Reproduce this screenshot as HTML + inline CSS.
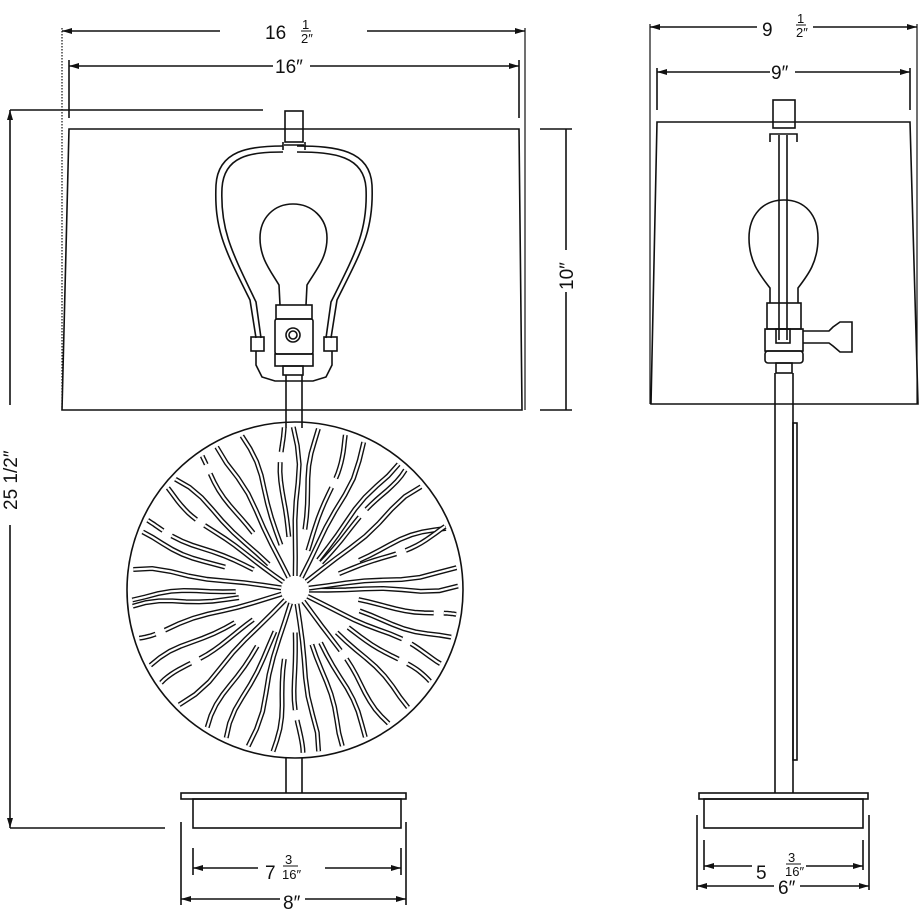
<!DOCTYPE html>
<html><head><meta charset="utf-8"><style>
html,body{margin:0;padding:0;background:#fff}
svg{display:block}
text{font-family:"Liberation Sans",sans-serif;fill:#111}
</style></head><body>
<svg id="s" width="920" height="920" viewBox="0 0 920 920" xmlns="http://www.w3.org/2000/svg">
<defs>
<marker id="a" markerWidth="10" markerHeight="6" refX="10" refY="3" orient="auto" markerUnits="userSpaceOnUse"><path d="M0,0 L10,3 L0,6 z" fill="#111"/></marker>
<marker id="b" markerWidth="10" markerHeight="6" refX="0" refY="3" orient="auto" markerUnits="userSpaceOnUse"><path d="M10,0 L0,3 L10,6 z" fill="#111"/></marker>
</defs>
<g stroke="#111" stroke-width="1.6" fill="none">
<line x1="62" y1="31" x2="220" y2="31" marker-start="url(#b)"/>
<line x1="367" y1="31" x2="525" y2="31" marker-end="url(#a)"/>
<line x1="62" y1="28" x2="62" y2="410" stroke-dasharray="1.5,1.5" stroke-width="1.2"/>
<line x1="525" y1="28" x2="525" y2="410" stroke-width="1.2"/>
<line x1="69" y1="66" x2="273" y2="66" marker-start="url(#b)"/>
<line x1="310" y1="66" x2="519" y2="66" marker-end="url(#a)"/>
<line x1="69" y1="60" x2="69" y2="118"/>
<line x1="519" y1="60" x2="519" y2="118"/>
<line x1="10" y1="110" x2="263" y2="110"/>
<line x1="10" y1="110" x2="10" y2="405" marker-start="url(#b)"/>
<line x1="10" y1="525" x2="10" y2="828" marker-end="url(#a)"/>
<line x1="10" y1="828" x2="165" y2="828"/>
<line x1="540" y1="129" x2="572" y2="129"/>
<line x1="540" y1="410" x2="572" y2="410"/>
<line x1="566" y1="129" x2="566" y2="250"/>
<line x1="566" y1="292" x2="566" y2="410"/>
<path d="M69,129 L519,129 L522,410 L62,410 Z"/>
<rect x="285" y="111" width="18" height="31"/>
<path d="M283,142 L283,150 M305,142 L305,150 M284,145 h20"/>
<path d="M283,146 C250,146 218,150 216,185 C214,230 225,250 250,300 L256,338 M297,146 C336,146 370,150 372,185 C374,230 362,250 337,300 L331,338"/>
<path d="M283,152 C250,152 224,156 222,188 C220,230 232,252 256,302 L261,338 M297,152 C334,152 364,156 366,188 C368,230 356,252 331,302 L326,338"/>
<rect x="251" y="337" width="13" height="14"/>
<rect x="324" y="337" width="13" height="14"/>
<path d="M256,351 L256,365 L262,377 L275,381 L313,381 L326,377 L332,365 L332,351"/>
<path d="M280,305 L279,285 C270,270 260,258 260,238 C260,218 274,204 293,204 C312,204 327,218 327,238 C327,258 316,270 307,285 L306,305"/>
<rect x="276" y="305" width="36" height="14"/>
<rect x="275" y="319" width="38" height="35" rx="2"/>
<circle cx="293" cy="335" r="7"/><circle cx="293" cy="335" r="4"/>
<rect x="275" y="354" width="38" height="12"/>
<rect x="283" y="366" width="20" height="9"/>
<line x1="286" y1="375" x2="286" y2="428"/>
<line x1="302" y1="375" x2="302" y2="428"/>
<line x1="286" y1="758" x2="286" y2="793"/>
<line x1="302" y1="758" x2="302" y2="793"/>
<circle cx="295" cy="590" r="168"/>
<g id="rays"></g>
<rect x="181" y="793" width="225" height="6"/>
<rect x="193" y="799" width="208" height="29"/>
<line x1="193" y1="848" x2="193" y2="875"/>
<line x1="401" y1="848" x2="401" y2="875"/>
<line x1="193" y1="868" x2="258" y2="868" marker-start="url(#b)"/>
<line x1="325" y1="868" x2="401" y2="868" marker-end="url(#a)"/>
<line x1="181" y1="822" x2="181" y2="905"/>
<line x1="406" y1="822" x2="406" y2="905"/>
<line x1="181" y1="899" x2="280" y2="899" marker-start="url(#b)"/>
<line x1="305" y1="899" x2="406" y2="899" marker-end="url(#a)"/>
<line x1="650" y1="27" x2="757" y2="27" marker-start="url(#b)"/>
<line x1="813" y1="27" x2="917" y2="27" marker-end="url(#a)"/>
<line x1="650" y1="24" x2="650" y2="404" stroke-width="1.2"/>
<line x1="917" y1="24" x2="917" y2="404" stroke-width="1.2"/>
<line x1="657" y1="72" x2="770" y2="72" marker-start="url(#b)"/>
<line x1="795" y1="72" x2="910" y2="72" marker-end="url(#a)"/>
<line x1="657" y1="68" x2="657" y2="110"/>
<line x1="910" y1="68" x2="910" y2="110"/>
<path d="M657,122 L910,122 L918,404 L651,404 Z"/>
<rect x="773" y="100" width="22" height="28"/>
<path d="M770,142 L770,134 L797,134 L797,142"/>
<line x1="779" y1="135" x2="779" y2="340"/>
<line x1="787" y1="135" x2="787" y2="340"/>
<path d="M770,303 L770,288 C760,275 749,262 749,238 C749,215 763,200 784,200 C805,200 818,215 818,238 C818,262 808,275 798,288 L798,303"/>
<rect x="767" y="303" width="34" height="26"/>
<rect x="765" y="329" width="38" height="22"/>
<rect x="776" y="329" width="14" height="14"/>
<rect x="765" y="351" width="38" height="12" rx="3"/>
<rect x="776" y="363" width="16" height="10"/>
<path d="M803,331 L829,331 L833,327 L840,322 L852,322 L852,352 L840,352 L833,346 L829,343 L803,343"/>
<line x1="775" y1="373" x2="775" y2="793"/>
<line x1="793" y1="373" x2="793" y2="793"/>
<rect x="793" y="423" width="4" height="337"/>
<rect x="699" y="793" width="169" height="6"/>
<rect x="704" y="799" width="159" height="29"/>
<line x1="697" y1="815" x2="697" y2="890"/>
<line x1="869" y1="815" x2="869" y2="890"/>
<line x1="704" y1="840" x2="704" y2="870"/>
<line x1="863" y1="840" x2="863" y2="870"/>
<line x1="704" y1="866" x2="752" y2="866" marker-start="url(#b)"/>
<line x1="806" y1="866" x2="863" y2="866" marker-end="url(#a)"/>
<line x1="697" y1="886" x2="774" y2="886" marker-start="url(#b)"/>
<line x1="800" y1="886" x2="869" y2="886" marker-end="url(#a)"/>
</g>
<g font-size="19">
<text x="265" y="39">16</text><text x="302" y="29" font-size="13">1</text><line x1="301" y1="31" x2="311" y2="31" stroke="#111"/><text x="301" y="43" font-size="13">2″</text>
<text x="275" y="73">16″</text>
<text transform="translate(17,510) rotate(-90)">25 1/2″</text>
<text transform="translate(573,290) rotate(-90)">10″</text>
<text x="265" y="879">7</text><text x="285" y="864" font-size="13">3</text><line x1="283" y1="866" x2="298" y2="866" stroke="#111"/><text x="282" y="879" font-size="13">16″</text>
<text x="283" y="909">8″</text>
<text x="762" y="36">9</text><text x="797" y="23" font-size="13">1</text><line x1="796" y1="25" x2="806" y2="25" stroke="#111"/><text x="796" y="37" font-size="13">2″</text>
<text x="771" y="79">9″</text>
<text x="756" y="879">5</text><text x="788" y="862" font-size="13">3</text><line x1="786" y1="864" x2="801" y2="864" stroke="#111"/><text x="785" y="876" font-size="13">16″</text>
<text x="778" y="894">6″</text>
</g>
</svg>
<script>
(function(){
var g=document.getElementById('rays');var cx=295,cy=590,R=165;
var seed=11;function rnd(){seed=(seed*9301+49297)%233280;return seed/233280;}
var out='';
var n=40;
for(var i=0;i<n;i++){
 var th=i/n*Math.PI*2+(rnd()-0.5)*0.05;
 var segs=[];var r=(i%3==0)?14:30+rnd()*45;
 while(r<R-6){var len=55+rnd()*110;var r1=Math.min(R-2,r+len);if(R-r1<20)r1=R-2;segs.push([r,r1]);r=r1+10;}
 var w=(rnd()-0.5)*0.12;var ph=rnd()*6;
 segs.forEach(function(s){
  var pts=[];for(var k=0;k<=8;k++){var rr=s[0]+(s[1]-s[0])*k/8;var a=th+w*(rr/R)+0.03*Math.sin(rr/18+ph)*(rr/R);pts.push((cx+rr*Math.cos(a)).toFixed(1)+','+(cy+rr*Math.sin(a)).toFixed(1));}
  var d='M'+pts.join(' L');
  out+='<path d="'+d+'" stroke="#111" stroke-width="5" fill="none"/>';
  out+='<path d="'+d+'" stroke="#fff" stroke-width="2.2" fill="none"/>';
 });
}
g.innerHTML=out;
})();
</script>
</body></html>
